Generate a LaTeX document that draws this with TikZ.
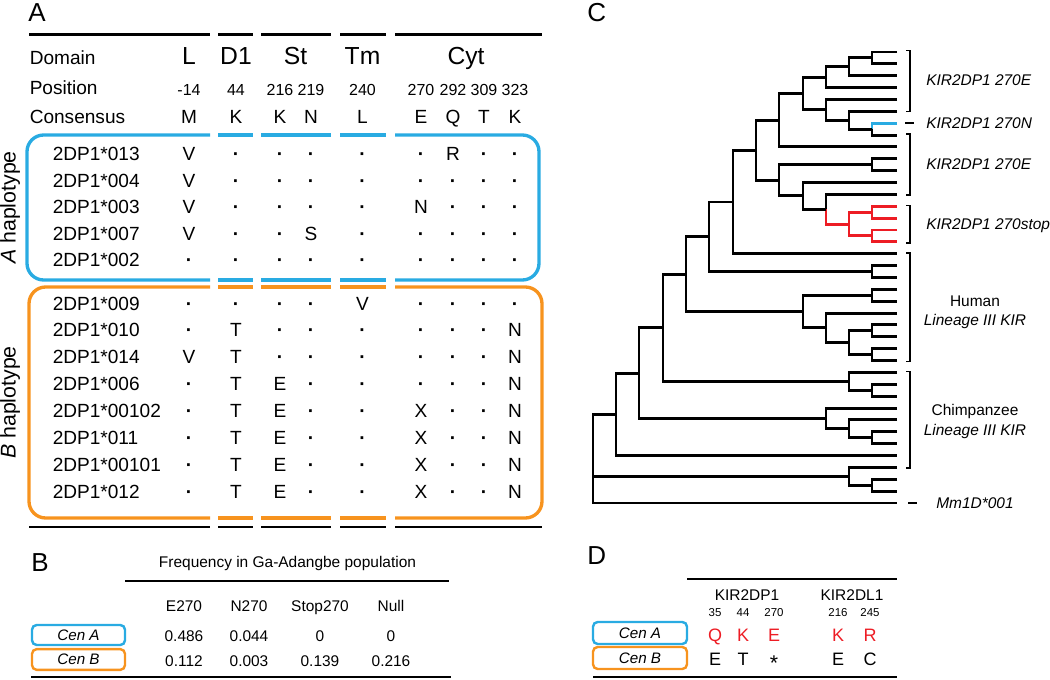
\documentclass[tikz,border=0pt]{standalone}
\usepackage{fontspec}
\setmainfont{Liberation Sans}
\usetikzlibrary{calc}
\definecolor{cblue}{RGB}{41,171,226}
\definecolor{corange}{RGB}{247,147,30}
\definecolor{cred}{RGB}{237,28,36}
\tikzset{
 rule/.style={line width=2.2pt},
 boxline/.style={line width=2.5pt},
 treeln/.style={line width=2.2pt},
 brkln/.style={line width=1.3pt},
 plabel/.style={font=\fontsize{19.5}{22}\selectfont, anchor=base west, inner sep=0pt},
 dom/.style={font=\fontsize{18.5}{21}\selectfont, anchor=base, inner sep=0pt},
 body/.style={font=\fontsize{14.3}{17}\selectfont, anchor=base, inner sep=0pt},
 bodyw/.style={body, anchor=base west},
 posn/.style={font=\fontsize{12}{14}\selectfont, anchor=base, inner sep=0pt},
 hap/.style={font=\fontsize{16}{19}\selectfont, rotate=90, inner sep=0pt},
 smalltxt/.style={font=\fontsize{11.6}{14}\selectfont, anchor=base, inner sep=0pt},
 clab/.style={font=\fontsize{11.6}{14}\selectfont\itshape, anchor=west, inner sep=0pt},
 ctwo/.style={font=\fontsize{11.6}{14.3}\selectfont, align=center, inner sep=0pt},
 cenbox/.style={draw, line width=1.8pt, rounded corners=3.5pt, inner sep=0pt,
   font=\fontsize{11.4}{13}\selectfont\itshape, text=black},
 dnum/.style={font=\fontsize{8.6}{10}\selectfont, anchor=base, inner sep=0pt},
 dlet/.style={font=\fontsize{13.5}{16}\selectfont, anchor=base, inner sep=0pt},
}
\newcommand\D{\textbf{·}}
% clade: name, x, child a, child b, style a, style b
\newcommand\clade[6]{%
 \coordinate (#1m) at ($(#3)!.5!(#4)$);
 \coordinate (#1) at (#2,0 |- #1m);
 \draw[treeln,#5] (#3) -- (#1 |- #3) -- (#1);
 \draw[treeln,#6] (#1) -- (#1 |- #4) -- (#4);
}
% gapped rounded box: colour, left, right, top, bottom
\newcommand\gapbox[5]{%
 \draw[boxline,#1,rounded corners=12.5pt] (210,#4) -- (#2,#4) -- (#2,#5) -- (210,#5);
 \draw[boxline,#1,rounded corners=12.5pt] (395,#4) -- (#3,#4) -- (#3,#5) -- (395,#5);
 \foreach \a/\b in {218/252.5,261/331,340/386} {
  \draw[boxline,#1] (\a,#4) -- (\b,#4);
  \draw[boxline,#1] (\a,#5) -- (\b,#5);
 }
}
\newcommand\bracket[3]{%
 \coordinate (#1t) at (910,#2);
 \coordinate (#1b) at (910,#3);
 \draw[brkln] ([xshift=-2.8pt]#1t) -- (#1t) -- (#1b) -- ([xshift=-2.8pt]#1b);
}
\begin{document}
\begin{tikzpicture}[x=0.75pt,y=-0.75pt]
\useasboundingbox (0,0) rectangle (1050,680);

% ================= Panel A =================
\node[plabel] (pA) at (28,21.7) {A};
\foreach \a/\b [count=\k] in {29/210,218/252.5,261/331,340/386,395/542} {
 \coordinate (tl\k) at (\a,34.5); \coordinate (tr\k) at (\b,34.5);
 \draw[rule] (tl\k) -- (tr\k);
 \coordinate (bl\k) at (\a,527); \coordinate (br\k) at (\b,527);
 \draw[rule] (bl\k) -- (br\k);
}
\node[bodyw] (hdom) at (29.5,65) {Domain};
\node[dom] (dL) at (189,65) {L};
\node[dom] (dD1) at (236,65) {D1};
\node[dom] (dSt) at (295.5,65) {St};
\node[dom] (dTm) at (362.5,65) {Tm};
\node[dom] (dCyt) at (466,65) {Cyt};

\node[bodyw] (hpos) at (29.5,95) {Position};
\foreach \v [count=\k] in {-14,44,216,219,240,270,292,309,323} {
 \pgfmathparse{{189,236,280,311,362.5,421,453,484,515}[\k-1]}\let\cx\pgfmathresult
 \node[posn] (p\k) at (\cx,96) {\v};
}
\node[bodyw] (hcon) at (29.5,124) {Consensus};
\foreach \v [count=\k] in {M,K,K,N,L,E,Q,T,K} {
 \pgfmathparse{{189,236,280,311,362.5,421,453,484,515}[\k-1]}\let\cx\pgfmathresult
 \node[body] (cs\k) at (\cx,124) {\v};
}

\gapbox{cblue}{27}{539}{135}{280}
\gapbox{corange}{29}{542}{287}{518}

\node[hap] (hA) at (10,207.5) {\textit{A} haplotype};
\node[hap] (hB) at (10,402.5) {\textit{B} haplotype};

\foreach \nm/\vals [count=\r from 0] in {
 013/{V,\D,\D,\D,\D,\D,R,\D,\D},
 004/{V,\D,\D,\D,\D,\D,\D,\D,\D},
 003/{V,\D,\D,\D,\D,N,\D,\D,\D},
 007/{V,\D,\D,S,\D,\D,\D,\D,\D},
 002/{\D,\D,\D,\D,\D,\D,\D,\D,\D}} {
 \pgfmathsetmacro\yb{160.8+26.5*\r}
 \node[bodyw] (an\r) at (52.5,\yb) {2DP1*\nm};
 \foreach \v [count=\k] in \vals {
  \pgfmathparse{{189,236,280,311,362.5,421,453,484,515}[\k-1]}\let\cx\pgfmathresult
  \node[body] (a\r c\k) at (\cx,\yb) {\v};
 }
}
\foreach \nm/\vals [count=\r from 0] in {
 009/{\D,\D,\D,\D,V,\D,\D,\D,\D},
 010/{\D,T,\D,\D,\D,\D,\D,\D,N},
 014/{V,T,\D,\D,\D,\D,\D,\D,N},
 006/{\D,T,E,\D,\D,\D,\D,\D,N},
 00102/{\D,T,E,\D,\D,X,\D,\D,N},
 011/{\D,T,E,\D,\D,X,\D,\D,N},
 00101/{\D,T,E,\D,\D,X,\D,\D,N},
 012/{\D,T,E,\D,\D,X,\D,\D,N}} {
 \pgfmathsetmacro\yb{310.1+26.9*\r}
 \node[bodyw] (bn\r) at (52.5,\yb) {2DP1*\nm};
 \foreach \v [count=\k] in \vals {
  \pgfmathparse{{189,236,280,311,362.5,421,453,484,515}[\k-1]}\let\cx\pgfmathresult
  \node[body] (b\r c\k) at (\cx,\yb) {\v};
 }
}

% ================= Panel B =================
\node[plabel] (pB) at (31,572) {B};
\node[smalltxt] (bfreq) at (287.5,568) {Frequency in Ga-Adangbe population};
\coordinate (bl1) at (125,581); \coordinate (bl2) at (449,581);
\draw[rule] (bl1) -- (bl2);
\foreach \t/\x [count=\k] in {E270/184,N270/249,Stop270/320,Null/391} {
 \node[smalltxt] (bh\k) at (\x,611.7) {\t};
}
\node[cenbox, draw=cblue, minimum width=69.75pt, minimum height=15pt] (bcA) at (78.5,635) {Cen A};
\node[cenbox, draw=corange, minimum width=69.75pt, minimum height=15.5pt] (bcB) at (78.5,659.5) {Cen B};
\foreach \t/\x [count=\k] in {0.486/184,0.044/249,0/320,0/391} {
 \node[smalltxt] (bva\k) at (\x,641.7) {\t};
}
\foreach \t/\x [count=\k] in {0.112/184,0.003/249,0.139/320,0.216/391} {
 \node[smalltxt] (bvb\k) at (\x,667) {\t};
}
\coordinate (bb1) at (31,677); \coordinate (bb2) at (451,677);
\draw[rule] (bb1) -- (bb2);

% ================= Panel C =================
\node[plabel] (pC) at (587,22) {C};
\foreach \i in {0,...,38} { \coordinate (l\i) at (897,{52+11.868*\i}); }
\clade{n01}{872}{l0}{l1}{}{}
\clade{n02}{849}{n01}{l2}{}{}
\clade{n03}{826}{n02}{l3}{}{}
\clade{nZ}{872}{l6}{l7}{cblue}{}
\clade{nY}{849}{l5}{nZ}{}{}
\clade{nX}{826}{l4}{nY}{}{}
\clade{nP1}{803}{n03}{nX}{}{}
\clade{nP2}{779}{nP1}{l8}{}{}
\clade{nW1}{872}{l9}{l10}{}{}
\clade{nR1}{872}{l13}{l14}{cred}{cred}
\clade{nR2}{872}{l15}{l16}{cred}{cred}
\clade{nR}{849}{nR1}{nR2}{cred}{cred}
\clade{nW3}{826}{l12}{nR}{}{cred}
\clade{nW2}{803}{l11}{nW3}{}{}
\clade{nW}{779}{nW1}{nW2}{}{}
\clade{nP3}{756}{nP2}{nW}{}{}
\clade{nP4}{733}{nP3}{l17}{}{}
\clade{nV}{872}{l18}{l19}{}{}
\clade{nP5}{709}{nP4}{nV}{}{}
\clade{nH1}{872}{l20}{l21}{}{}
\clade{nH4}{872}{l23}{l24}{}{}
\clade{nH5}{872}{l25}{l26}{}{}
\clade{nH3}{849}{nH4}{nH5}{}{}
\clade{nH2}{826}{l22}{nH3}{}{}
\clade{nH}{803}{nH1}{nH2}{}{}
\clade{nP6}{686}{nP5}{nH}{}{}
\clade{nC1a}{872}{l28}{l29}{}{}
\clade{nC1}{849}{l27}{nC1a}{}{}
\clade{nP7}{663}{nP6}{nC1}{}{}
\clade{nC4}{872}{l32}{l33}{}{}
\clade{nC3}{849}{l31}{nC4}{}{}
\clade{nC2}{826}{l30}{nC3}{}{}
\clade{nP8}{639}{nP7}{nC2}{}{}
\clade{nP9}{616}{nP8}{l34}{}{}
\clade{nO1}{872}{l36}{l37}{}{}
\clade{nO}{849}{l35}{nO1}{}{}
\coordinate (rt) at (593,0 |- nO);
\draw[treeln] (nP9) -- (rt |- nP9) -- (rt |- l38) -- (l38);
\draw[treeln] (rt) -- (nO);

\bracket{k1}{50.5}{111.5}
\bracket{k2}{134}{195}
\bracket{k3}{205.5}{243}
\bracket{k4}{253}{361.5}
\bracket{k5}{371.5}{468}
\coordinate (dn1) at (905,123.2); \coordinate (dn2) at (914,123.2);
\draw[brkln] (dn1) -- (dn2);
\coordinate (dm1) at (908,503); \coordinate (dm2) at (917,503);
\draw[brkln] (dm1) -- (dm2);

\node[clab] (t270e1) at (926,80.5) {KIR2DP1 270E};
\node[clab] (t270n) at (926,123.2) {KIR2DP1 270N};
\node[clab] (t270e2) at (926,164.5) {KIR2DP1 270E};
\node[clab] (t270s) at (926,226) {KIR2DP1 270stop};
\node[ctwo] (thum) at (975,312) {Human\\\textit{Lineage III KIR}};
\node[ctwo] (tchi) at (975,421.5) {Chimpanzee\\\textit{Lineage III KIR}};
\node[clab, anchor=center] (tmm) at (975,503) {Mm1D*001};

% ================= Panel D =================
\node[plabel] (pD) at (587,565) {D};
\coordinate (dt1) at (687,579); \coordinate (dt2) at (897,579);
\draw[rule] (dt1) -- (dt2);
\node[smalltxt] (dk1) at (747,600) {KIR2DP1};
\node[smalltxt] (dk2) at (852,600) {KIR2DL1};
\foreach \t/\x [count=\k] in {35/715,44/743,270/774,216/838,245/870} {
 \node[dnum] (dp\k) at (\x,617) {\t};
}
\node[cenbox, draw=cblue, minimum width=70.5pt, minimum height=16.5pt] (dcA) at (640,633) {Cen A};
\node[cenbox, draw=corange, minimum width=70.5pt, minimum height=16.5pt] (dcB) at (640,658) {Cen B};
\foreach \t/\x [count=\k] in {Q/715,K/743,E/774,K/838,R/870} {
 \node[dlet, text=cred] (dra\k) at (\x,641.7) {\t};
}
\foreach \t/\x [count=\k] in {E/715,T/743,{\raisebox{-3.6pt}{\fontsize{16}{16}\selectfont *}}/774,E/838,C/870} {
 \node[dlet] (drb\k) at (\x,666) {\t};
}
\coordinate (db1) at (593,677); \coordinate (db2) at (897,677);
\draw[rule] (db1) -- (db2);
\end{tikzpicture}
\end{document}
